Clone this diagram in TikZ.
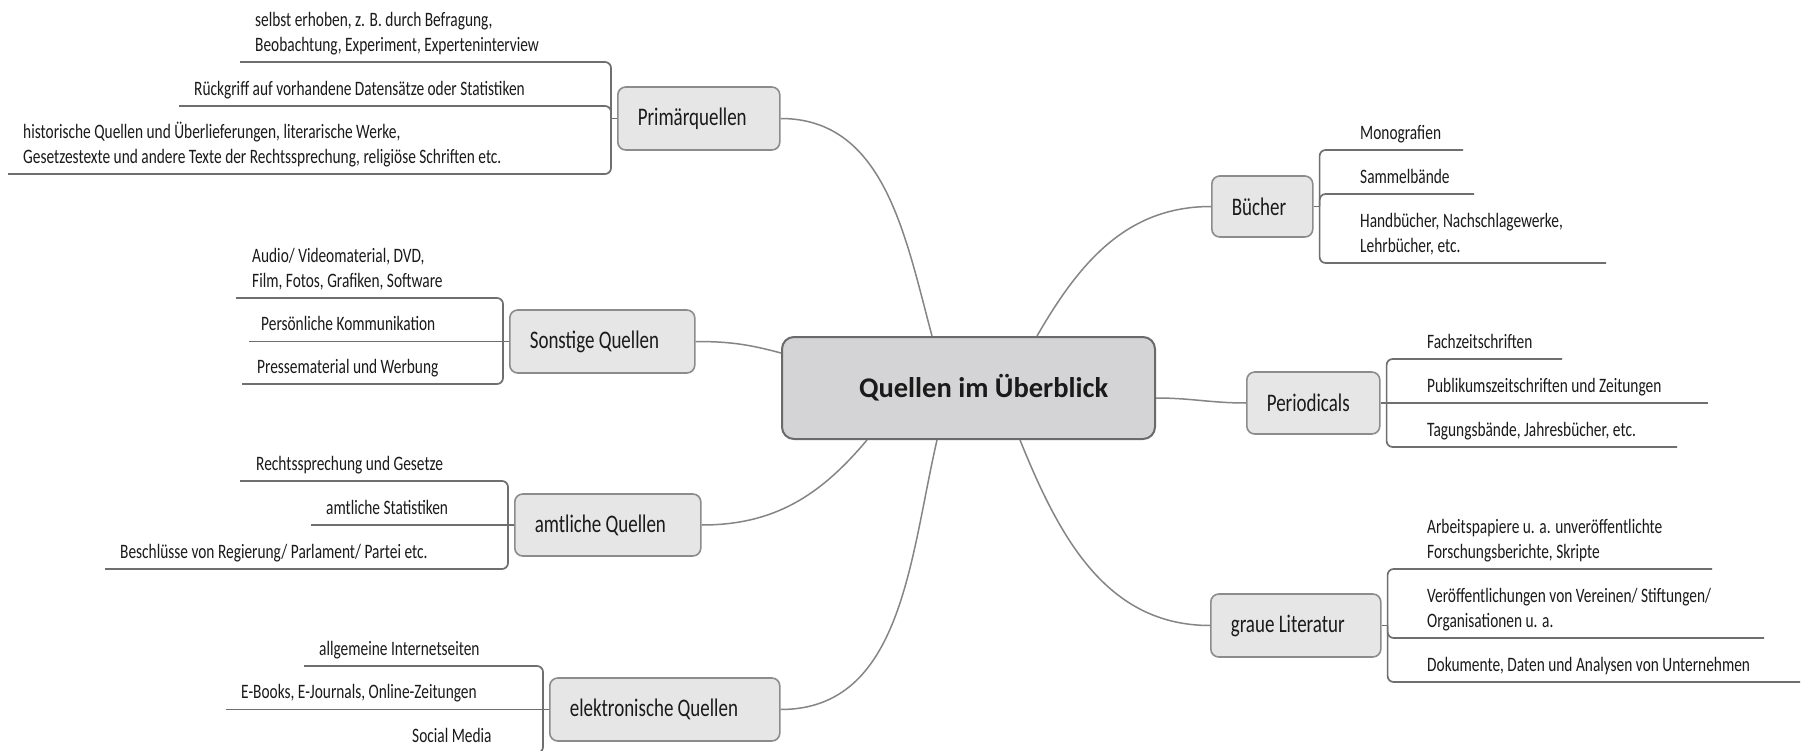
\documentclass[tikz,border=0pt]{standalone}
\usepackage{fontspec}
\setmainfont{Carlito}[FakeStretch=0.75]
\newfontfamily\titlefont{Carlito}
\definecolor{ink}{HTML}{1A1A1A}
\definecolor{railline}{HTML}{6F6F6F}
\definecolor{branchline}{HTML}{858585}
\definecolor{topicline}{HTML}{8C8C8C}
\definecolor{topicfill}{HTML}{E6E6E6}
\definecolor{hubline}{HTML}{6A6A6A}
\definecolor{hubfill}{HTML}{D4D4D6}
\begin{document}
\begin{tikzpicture}[x=1pt,y=1pt,
  hub/.style={draw=hubline, line width=2pt, fill=hubfill, rounded corners=12pt,
    inner sep=0pt, minimum width=373pt, minimum height=102pt, text=ink,
    font=\titlefont\bfseries\fontsize{28.5pt}{34pt}\selectfont},
  topic/.style={draw=topicline, line width=1.6pt, fill=topicfill, rounded corners=8pt,
    inner xsep=20pt, inner ysep=0pt, anchor=west, text=ink,
    font=\fontsize{25.3pt}{30pt}\selectfont},
  leaf/.style={inner sep=0pt, anchor=south west, align=left, text=ink,
    font=\fontsize{20.5pt}{25pt}\selectfont},
  branch/.style={draw=branchline, line width=1.5pt},
  rail/.style={draw=railline, line width=1.7pt, rounded corners=6pt},
]
\fill[white] (0,0) rectangle (1803,-751);
\useasboundingbox (0,0) rectangle (1803,-751);

% central topic
\node[hub] (hub) at (968.5,-388) {\makebox[373pt][l]{\hspace*{77pt}Quellen im Überblick}};

% main branches
\node[topic, minimum height=63pt] (prim)  at (617,-118.5) {\makebox[122pt][l]{Primärquellen}};
\node[topic, minimum height=63pt] (sonst) at (509,-341.5) {\makebox[145pt][l]{Sonstige Quellen}};
\node[topic, minimum height=62pt] (amt)   at (514,-525)   {\makebox[146pt][l]{amtliche Quellen}};
\node[topic, minimum height=63pt] (elek)  at (549,-709.5) {\makebox[190pt][l]{elektronische Quellen}};
\node[topic, minimum height=61pt] (buch)  at (1211,-206.5) {\makebox[61pt][l]{Bücher}};
\node[topic, minimum height=62pt] (peri)  at (1246,-403)  {\makebox[93pt][l]{Periodicals}};
\node[topic, minimum height=63pt] (grau)  at (1210,-625.5) {\makebox[130pt][l]{graue Literatur}};

% curved links from the central topic
\draw[branch] (prim.east) to[out=0,in=105] ([xshift=-36.5pt]hub.north);
\draw[branch] ([xshift=68.5pt]hub.north) to[out=60,in=180] (buch.west);
\draw[branch] (sonst.east) to[out=0,in=165] ([yshift=35pt]hub.west);
\draw[branch] ([yshift=-10pt]hub.east) to[out=0,in=180] (peri.west);
\draw[branch] (amt.east) to[out=0,in=230] ([xshift=-101.5pt]hub.south);
\draw[branch] (elek.east) to[out=0,in=257] ([xshift=-31.5pt]hub.south);
\draw[branch] ([xshift=51.5pt]hub.south) to[out=-68,in=180] (grau.west);

% Primärquellen
\coordinate (prim-b) at ([xshift=-6pt]prim.west);
\draw[rail] (prim.west) -- (prim-b);
\node[leaf] (p1) at (255,-59) {\strut selbst erhoben, z. B. durch Befragung,\\\strut Beobachtung, Experiment, Experteninterview};
\node[leaf] (p2) at (194,-103) {\strut Rückgriff auf vorhandene Datensätze oder Statistiken};
\node[leaf] (p3) at (23,-171) {\strut historische Quellen und Überlieferungen, literarische Werke,\\\strut Gesetzestexte und andere Texte der Rechtssprechung, religiöse Schriften etc.};
\coordinate (p1u) at (240,-62);
\coordinate (p2u) at (179,-106);
\coordinate (p3u) at (8,-174);
\draw[rail] (prim-b) |- (p1u);
\draw[rail] (prim-b) |- (p2u);
\draw[rail] (prim-b) |- (p3u);

% Sonstige Quellen
\coordinate (sonst-b) at ([xshift=-6pt]sonst.west);
\node[leaf] (s1) at (252,-295) {\strut Audio/ Videomaterial, DVD,\\\strut Film, Fotos, Grafiken, Software};
\node[leaf] (s2) at (261,-338.5) {\strut Persönliche Kommunikation};
\node[leaf] (s3) at (257,-381) {\strut Pressematerial und Werbung};
\coordinate (s1u) at (236,-298);
\coordinate (s2u) at (249,-341.5);
\coordinate (s3u) at (242,-384);
\draw[rail] (sonst-b) |- (s1u);
\draw[rail] (sonst.west) -- (s2u);
\draw[rail] (sonst-b) |- (s3u);

% amtliche Quellen
\coordinate (amt-b) at ([xshift=-6pt]amt.west);
\node[leaf] (a1) at (256,-478) {\strut Rechtssprechung und Gesetze};
\node[leaf] (a2) at (326,-522) {\strut amtliche Statistiken};
\node[leaf] (a3) at (120,-566) {\strut Beschlüsse von Regierung/ Parlament/ Partei etc.};
\coordinate (a1u) at (240,-481);
\coordinate (a2u) at (311,-525);
\coordinate (a3u) at (105,-569);
\draw[rail] (amt-b) |- (a1u);
\draw[rail] (amt.west) -- (a2u);
\draw[rail] (amt-b) |- (a3u);

% elektronische Quellen
\coordinate (elek-b) at ([xshift=-6pt]elek.west);
\node[leaf] (e1) at (319,-663) {\strut allgemeine Internetseiten};
\node[leaf] (e2) at (241,-706.5) {\strut E-Books, E-Journals, Online-Zeitungen};
\node[leaf] (e3) at (412,-750) {\strut Social Media};
\coordinate (e1u) at (304,-666);
\coordinate (e2u) at (226,-709.5);
\coordinate (e3u) at (397,-753);
\draw[rail] (elek-b) |- (e1u);
\draw[rail] (elek.west) -- (e2u);
\draw[rail] (elek-b) |- (e3u);

% Bücher
\coordinate (buch-b) at ([xshift=6pt]buch.east);
\draw[rail] (buch.east) -- (buch-b);
\node[leaf] (b1) at (1360,-147) {\strut Monografien};
\node[leaf] (b2) at (1360,-191) {\strut Sammelbände};
\node[leaf] (b3) at (1360,-260) {\strut Handbücher, Nachschlagewerke,\\\strut Lehrbücher, etc.};
\coordinate (b1u) at (1463,-150);
\coordinate (b2u) at (1474,-194);
\coordinate (b3u) at (1606,-263);
\draw[rail] (buch-b) |- (b1u);
\draw[rail] (buch-b) |- (b2u);
\draw[rail] (buch-b) |- (b3u);

% Periodicals
\coordinate (peri-b) at ([xshift=6pt]peri.east);
\node[leaf] (r1) at (1427,-356) {\strut Fachzeitschriften};
\node[leaf] (r2) at (1427,-400) {\strut Publikumszeitschriften und Zeitungen};
\node[leaf] (r3) at (1427,-444) {\strut Tagungsbände, Jahresbücher, etc.};
\coordinate (r1u) at (1562,-359);
\coordinate (r2u) at (1708,-403);
\coordinate (r3u) at (1677,-447);
\draw[rail] (peri-b) |- (r1u);
\draw[rail] (peri.east) -- (r2u);
\draw[rail] (peri-b) |- (r3u);

% graue Literatur
\coordinate (grau-b) at ([xshift=6pt]grau.east);
\draw[rail] (grau.east) -- (grau-b);
\node[leaf] (g1) at (1427,-566) {\strut Arbeitspapiere u. a. unveröffentlichte\\\strut Forschungsberichte, Skripte};
\node[leaf] (g2) at (1427,-635) {\strut Veröffentlichungen von Vereinen/ Stiftungen/\\\strut Organisationen u. a.};
\node[leaf] (g3) at (1427,-679) {\strut Dokumente, Daten und Analysen von Unternehmen};
\coordinate (g1u) at (1712,-569);
\coordinate (g2u) at (1764,-638);
\coordinate (g3u) at (1800,-682);
\draw[rail] (grau-b) |- (g1u);
\draw[rail] (grau-b) |- (g2u);
\draw[rail] (grau-b) |- (g3u);
\end{tikzpicture}
\end{document}
